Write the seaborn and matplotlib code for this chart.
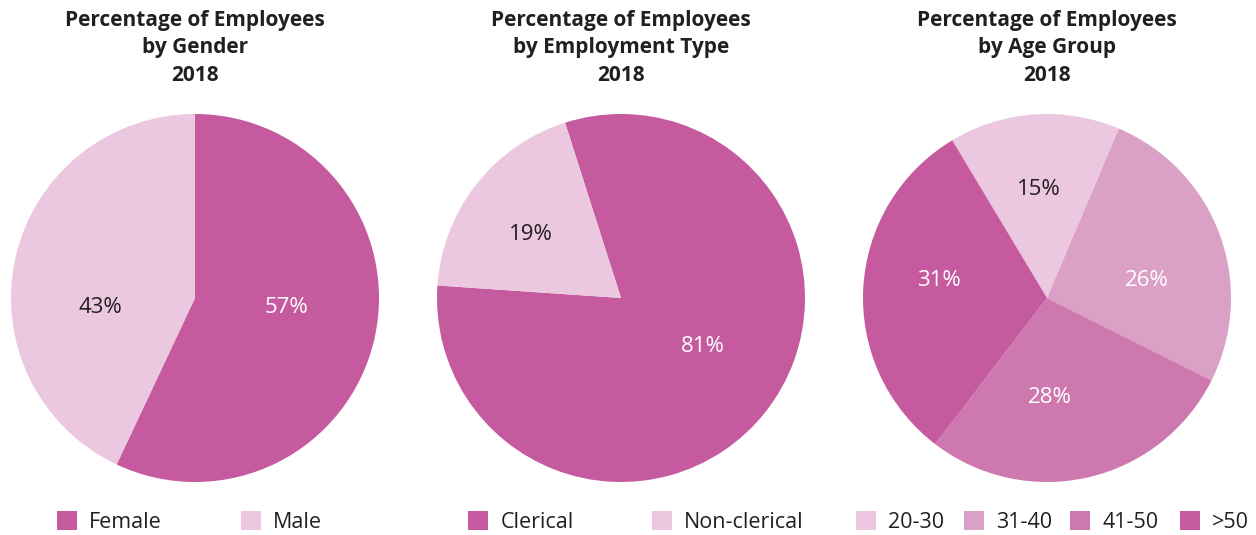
import matplotlib
matplotlib.use("Agg")
import matplotlib.pyplot as plt
from matplotlib.patches import Patch
import seaborn as sns

sns.set_theme(style="white")
plt.rcParams['font.family'] = ['Open Sans', 'DejaVu Sans']

# Data
gender_labels = ["Female", "Male"]
gender_values = [57, 43]
emp_labels = ["Clerical", "Non-clerical"]
emp_values = [81, 19]
age_labels = ["20-30", "31-40", "41-50", ">50"]
age_values = [15, 26, 28, 31]

titles = ["Percentage of Employees\nby Gender\n2018",
          "Percentage of Employees\nby Employment Type\n2018",
          "Percentage of Employees\nby Age Group\n2018"]

DARK = "#C55A9F"
LIGHT = "#EBC8DF"
MID1 = "#DBA0C6"
MID2 = "#CE78B0"
TXT = "#231F20"

W, H = 1256, 535
fig = plt.figure(figsize=(W / 100, H / 100), dpi=100)

R = 184
centers = [(195, 298), (621, 298), (1047, 298)]

# label placement (style), in pie radius units
specs = [
    dict(values=gender_values, colors=[DARK, LIGHT], start=90,
         tcol=["white", TXT], pos=[(0.495, -0.05), (-0.516, -0.05)]),
    dict(values=emp_values, colors=[DARK, LIGHT], start=107.7,
         tcol=["white", TXT], pos=[(0.446, -0.262), (-0.489, 0.347)]),
    dict(values=age_values, colors=[LIGHT, MID1, MID2, DARK], start=121,
         tcol=[TXT, "white", "white", "white"],
         pos=[(-0.043, 0.591), (0.543, 0.097), (0.016, -0.539), (-0.587, 0.097)]),
]

for (cx, cy), spec, title in zip(centers, specs, titles):
    ax = fig.add_axes([(cx - R) / W, (H - cy - R) / H, 2 * R / W, 2 * R / H])
    wedges, texts, autotexts = ax.pie(
        spec["values"], colors=spec["colors"], startangle=spec["start"],
        counterclock=False, autopct=lambda p: f"{p:.0f}%",
        pctdistance=0.55, wedgeprops=dict(linewidth=0),
        textprops=dict(fontsize=16))
    for t, c, p in zip(autotexts, spec["tcol"], spec["pos"]):
        t.set_color(c)
        t.set_position(p)
    ax.set_xlim(-1, 1)
    ax.set_ylim(-1, 1)
    ax.set_aspect("equal")
    ax.axis("off")
    fig.text(cx / W, (H - 10) / H, title, ha="center", va="top",
             fontsize=15, fontweight="bold", color=TXT, linespacing=1.4)

# Legends placed item by item
legend_items = [
    (gender_labels, [DARK, LIGHT], [57, 241]),
    (emp_labels, [DARK, LIGHT], [468, 652]),
    (age_labels, [LIGHT, MID1, MID2, DARK], [856, 964, 1070, 1180]),
]
for labels, cols, xs in legend_items:
    for lab, col, x in zip(labels, cols, xs):
        fig.legend(handles=[Patch(facecolor=col, edgecolor="none", label=lab)],
                   loc="center left", bbox_to_anchor=(x / W, (H - 522) / H),
                   frameon=False, borderpad=0, borderaxespad=0,
                   handlelength=0.95, handleheight=0.95, handletextpad=0.55,
                   fontsize=15.5, labelcolor=TXT)

fig.savefig("out.png", dpi=100)
